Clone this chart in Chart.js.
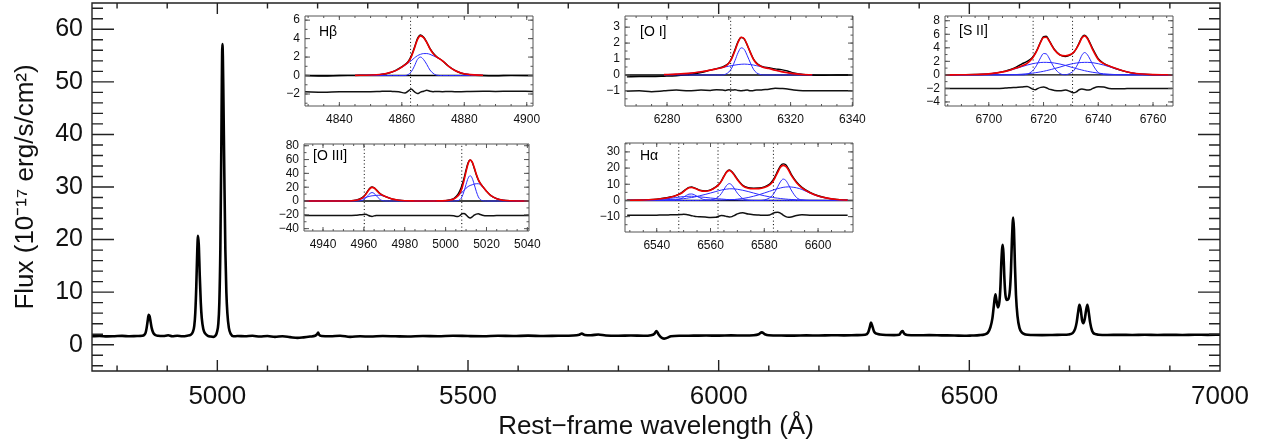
<!DOCTYPE html>
<html>
<head>
<meta charset="utf-8">
<title>Rest-frame spectrum</title>
<script src="https://cdn.jsdelivr.net/npm/chart.js@4.4.1/dist/chart.umd.min.js"></script>
<style>
  html, body { margin: 0; padding: 0; background: #fff; }
  #stage { position: relative; width: 1262px; height: 445px; overflow: hidden; }
  #stage canvas { position: absolute; }
</style>
</head>
<body>
<div id="stage">
  <canvas id="main" width="1262" height="445" style="left:0;top:0"></canvas>
  <canvas id="hb"></canvas>
  <canvas id="oi"></canvas>
  <canvas id="sii"></canvas>
  <canvas id="oiii"></canvas>
  <canvas id="ha"></canvas>
</div>
<script>
// ---------------- main spectrum: [wavelength (A), flux] ----------------
const spectrum = [
  [4750,1.6],[4765,1.65],[4780,1.58],[4795,1.62],[4810,1.68],[4825,1.6],[4840,1.66],[4850,1.7],
  [4854,1.85],[4857,2.3],[4859,3.2],[4861,4.5],[4863,5.7],[4865,5.4],[4867,4.3],[4869,3.2],
  [4872,2.3],[4876,1.85],[4882,1.7],[4892,1.65],[4902,1.8],[4910,1.6],[4920,1.7],[4930,1.62],
  [4940,1.72],[4947,1.9],[4951,2.4],[4954,3.6],[4956,6],[4958,11],[4960,18],[4961.5,20.7],
  [4963,19],[4965,13],[4967,8],[4969,5],[4972,3],[4976,2.1],[4981,1.7],[4987,1.55],[4992,1.5],
  [4996,1.7],[4999,2.3],[5002,4],[5004,8],[5006,18],[5008,38],[5009,50],[5010,57.2],[5011,55],
  [5012,48],[5014,32],[5016,18],[5018,10],[5020,6],[5023,3.2],[5027,2],[5032,1.6],[5040,1.65],
  [5055,1.6],[5070,1.7],[5085,1.55],[5100,1.65],[5115,1.5],[5130,1.6],[5145,1.45],[5160,1.3],
  [5172,1.4],[5185,1.55],[5195,1.7],[5199,2.0],[5201,2.3],[5203,1.9],[5208,1.65],[5225,1.6],
  [5245,1.7],[5265,1.5],[5285,1.6],[5305,1.55],[5330,1.65],[5355,1.6],[5380,1.55],[5410,1.65],
  [5440,1.6],[5470,1.7],[5500,1.65],[5530,1.62],[5560,1.7],[5590,1.65],[5620,1.72],[5650,1.65],
  [5680,1.7],[5710,1.75],[5722,1.9],[5727,2.1],[5733,1.85],[5745,1.8],[5760,1.95],[5775,1.75],
  [5800,1.7],[5825,1.75],[5850,1.7],[5865,1.8],[5872,2.1],[5876,2.6],[5880,2.0],[5885,1.4],
  [5891,1.15],[5897,1.3],[5905,1.6],[5925,1.7],[5950,1.72],[5975,1.75],[6000,1.72],[6025,1.78],
  [6050,1.75],[6070,1.8],[6080,2.0],[6086,2.35],[6092,2.0],[6100,1.8],[6125,1.75],[6150,1.72],
  [6175,1.78],[6200,1.75],[6225,1.8],[6250,1.78],[6275,1.82],[6292,1.9],[6298,2.3],[6301,3.2],
  [6304,4.2],[6307,3.4],[6310,2.5],[6315,2.1],[6322,1.95],[6335,1.85],[6350,1.82],[6360,1.9],
  [6364,2.4],[6367,2.6],[6370,2.1],[6376,1.85],[6395,1.8],[6420,1.82],[6445,1.78],[6470,1.75],
  [6490,1.7],[6505,1.75],[6520,1.82],[6530,1.95],[6537,2.3],[6542,3.3],[6546,5],[6549,7.5],
  [6552,9.6],[6554,8.5],[6557,7.1],[6560,8.2],[6562,11],[6564,16],[6566.5,19],[6568,17.5],
  [6570,12.5],[6572,9.5],[6575,8.5],[6578,8.7],[6581,10.5],[6583,14],[6585,20],[6587.5,24.2],
  [6589,22],[6591,15],[6593,9.5],[6596,5.5],[6600,3.2],[6605,2.3],[6612,1.95],[6625,1.85],
  [6645,1.82],[6665,1.85],[6685,1.9],[6698,1.95],[6706,2.2],[6711,3],[6714,4.2],[6717,6.2],
  [6719.5,7.6],[6722,6.8],[6725,4.6],[6727.5,4.1],[6730,4.8],[6733,6.6],[6735.5,7.6],[6738,6.3],
  [6741,4.2],[6745,2.6],[6750,2.05],[6758,1.9],[6775,1.85],[6800,1.88],[6825,1.85],[6850,1.9],
  [6875,1.86],[6900,1.88],[6925,1.85],[6950,1.9],[6975,1.87],[7000,1.9]
];
const mainXTicks = [5000, 5500, 6000, 6500, 7000];
const mainXMinor = [4800, 4900, 5100, 5200, 5300, 5400, 5600, 5700, 5800, 5900, 6100, 6200,
                    6300, 6400, 6600, 6700, 6800, 6900];
const mainYTicks = [0, 10, 20, 30, 40, 50, 60];
const mainYMinor = [-4, -2, 2, 4, 6, 8, 12, 14, 16, 18, 22, 24, 26, 28, 32, 34, 36, 38,
                    42, 44, 46, 48, 52, 54, 56, 58, 62, 64];

// ---------------- H beta inset ----------------
const hbWave   = [4829,4835,4840,4845,4850,4853,4855,4857,4859,4861,4862,4863,4864,4865,4866,
                  4867,4868,4869,4870,4871,4873,4875,4877,4879,4882,4886,4890,4895,4902];
const hbObs    = [0.0,-0.05,0.0,0.02,0.05,0.1,0.2,0.4,0.75,1.2,1.5,2.1,3.0,4.0,4.4,
                  4.15,3.6,2.95,2.45,2.1,1.6,1.0,0.55,0.25,0.08,0.0,-0.02,0.02,0.0];
const hbModel  = [null,null,null,0.02,0.06,0.12,0.22,0.4,0.7,1.15,1.45,2.0,2.9,3.9,4.3,
                  4.1,3.58,2.9,2.4,2.05,1.6,1.0,0.55,0.28,0.1,0.03,null,null,null];
const hbBroad  = [null,null,null,0.02,0.06,0.12,0.22,0.4,0.7,1.1,1.35,1.6,1.9,2.15,2.3,
                  2.38,2.38,2.3,2.15,2.0,1.6,1.0,0.55,0.28,0.1,0.03,null,null,null];
const hbNarrow = [null,null,null,0,0,0,0,0,0,0,0.1,0.4,1.0,1.75,2.0,
                  1.72,1.2,0.6,0.25,0.05,0,0,0,0,0,0,null,null,null];
const hbResid  = [-1.75,-1.8,-1.75,-1.75,-1.75,-1.72,-1.7,-1.72,-1.75,-1.9,-1.7,-1.45,-1.75,-1.95,-1.8,
                  -1.7,-1.6,-1.7,-1.75,-1.72,-1.75,-1.72,-1.75,-1.75,-1.72,-1.7,-1.72,-1.7,-1.72];
const hbLines  = [4862.8];

// ---------------- [O I] inset ----------------
const oiWave   = [6267,6271,6275,6279,6283,6287,6291,6294,6296,6298,6299,6300,6301,6302,6303,6304,
                  6305,6306,6307,6308,6309,6310,6311,6313,6315,6317,6319,6321,6324,6327,6331,6335,6340];
const oiObs    = [-0.12,-0.1,-0.1,-0.08,-0.05,0.02,0.15,0.3,0.4,0.5,0.6,0.75,1.1,1.6,2.1,2.35,
                  2.25,1.85,1.4,1.0,0.75,0.6,0.52,0.45,0.38,0.33,0.25,0.12,0.03,0.0,-0.02,0.0,0.0];
const oiModel  = [null,null,null,0.02,0.05,0.1,0.2,0.3,0.38,0.47,0.56,0.73,1.04,1.52,2.05,2.37,
                  2.28,1.87,1.4,0.97,0.71,0.58,0.49,0.4,0.3,0.21,0.14,0.08,0.03,0.01,null,null,null];
const oiBroad  = [null,null,null,0.02,0.05,0.1,0.2,0.3,0.38,0.47,0.51,0.55,0.59,0.62,0.65,0.67,
                  0.68,0.67,0.65,0.62,0.58,0.54,0.49,0.4,0.3,0.21,0.14,0.08,0.03,0.01,null,null,null];
const oiNarrow = [null,null,null,0,0,0,0,0,0,0,0.05,0.18,0.45,0.9,1.4,1.7,
                  1.6,1.2,0.75,0.35,0.13,0.04,0,0,0,0,0,0,0,0,null,null,null];
const oiResid  = [-1.02,-1.0,-1.05,-1.0,-0.95,-1.0,-0.95,-0.97,-0.93,-0.95,-0.97,-0.93,-0.95,-0.93,-0.97,-1.0,
                  -0.97,-0.95,-1.0,-0.98,-0.95,-0.95,-0.93,-0.9,-0.83,-0.85,-0.88,-0.95,-1.0,-1.0,-1.0,-1.0,-1.0];
const oiLines  = [6300.6];

// ---------------- [S II] inset ----------------
const siiWave   = [6684,6690,6695,6700,6703,6706,6708,6710,6712,6714,6716,6717,6718,6719,6720,6721,6722,
                   6723,6724,6726,6728,6730,6731,6732,6733,6734,6735,6736,6737,6738,6740,6742,6744,6746,
                   6749,6752,6756,6760,6767];
const siiObs    = [0.0,0.03,0.05,0.12,0.3,0.55,0.8,1.15,1.6,2.0,2.6,3.2,4.0,4.95,5.65,5.7,5.15,
                   4.4,3.75,2.95,2.7,3.0,3.3,3.9,4.7,5.55,5.85,5.5,4.7,3.85,2.4,1.7,1.3,0.98,
                   0.6,0.3,0.1,0.02,0.0];
const siiModel  = [0,0.02,0.05,0.15,0.3,0.52,0.73,1.0,1.3,1.71,2.51,3.14,3.96,4.88,5.53,5.57,5.05,
                   4.32,3.68,2.95,2.82,3.05,3.33,3.88,4.62,5.45,5.77,5.38,4.58,3.68,2.26,1.66,1.3,1.0,
                   0.62,0.32,0.12,0.04,0];
const siiNarrow = [0,0,0,0,0,0,0,0,0,0.1,0.6,1.1,1.8,2.6,3.15,3.1,2.5,
                   1.7,1.0,0.2,0.02,0.3,0.6,1.2,2.0,2.9,3.3,3.0,2.3,1.5,0.35,0.05,0,0,
                   0,0,0,0,0];
const siiBroad1 = [0,0.02,0.05,0.15,0.3,0.5,0.7,0.95,1.2,1.45,1.65,1.72,1.78,1.83,1.85,1.85,1.83,
                   1.8,1.75,1.6,1.4,1.15,1.05,0.93,0.82,0.72,0.62,0.53,0.45,0.38,0.26,0.16,0.1,0.05,
                   0.02,0,0,0,0];
const siiBroad2 = [0,0,0,0,0,0.02,0.03,0.05,0.1,0.16,0.26,0.32,0.38,0.45,0.53,0.62,0.72,
                   0.82,0.93,1.15,1.4,1.6,1.68,1.75,1.8,1.83,1.85,1.85,1.83,1.8,1.65,1.45,1.2,0.95,
                   0.6,0.32,0.12,0.04,0];
const siiResid  = [-2.0,-2.0,-2.0,-2.0,-2.0,-1.95,-1.9,-1.85,-1.8,-1.7,-2.1,-2.2,-2.0,-1.85,-1.8,-1.9,-2.1,
                   -2.2,-2.3,-2.35,-2.25,-2.5,-2.65,-2.5,-2.2,-2.1,-2.15,-2.25,-2.2,-2.0,-1.75,-1.8,-2.0,-2.05,
                   -2.05,-2.0,-2.0,-2.0,-2.0];
const siiLines  = [6716.2, 6730.6];

// ---------------- [O III] inset ----------------
const o3Wave   = [4931,4940,4950,4954,4956,4958,4960,4961,4962,4963,4964,4965,4966,4967,4968,4969,
                  4970,4972,4974,4977,4980,4985,4990,4995,5000,5002,5004,5006,5007,5008,5009,5010,
                  5011,5012,5013,5014,5015,5016,5017,5018,5020,5022,5025,5028,5032,5036,5041];
const o3Obs    = [0.3,0.2,0.3,0.6,1.3,3.0,6.8,10.5,15,18.8,20.3,19.2,16.5,13.3,10.5,8.6,
                  7.2,4.8,2.8,1.2,0.5,0.2,0.1,0.2,0.6,1.5,3.5,9.5,15,23,33,45,
                  55.5,59.5,56,47.5,38,30.5,25.5,21.5,14.2,8.2,3.4,1.3,0.4,0.2,0.2];
const o3Model  = [0,0,0.1,0.4,1.0,2.5,6.2,9.8,14.2,18,19.7,18.8,16.2,13,10.3,8.5,
                  7.2,4.7,2.7,1.1,0.4,0.1,0,0.1,0.5,1.2,3,7.5,11.5,18.5,29.5,42.5,
                  54,59.1,56.5,48.5,39,31,25.5,21.5,14,8,3.2,1.2,0.3,0.05,0];
const o3Narrow = [0,0,0,0,0,0.2,2.0,4.7,8,11,12.2,11,8,4.7,2,0.7,
                  0.2,0,0,0,0,0,0,0,0,0,0,0.5,2,6,14,24,
                  33,36.6,33,24,14,6,2,0.5,0,0,0,0,0,0,0];
const o3Broad  = [0,0,0.1,0.4,1.0,2.3,4.2,5.1,6.2,7,7.5,7.8,8.2,8.3,8.3,7.8,
                  7,4.7,2.7,1.1,0.4,0.1,0,0.1,0.5,1.2,3,7,9.5,12.5,15.5,18.5,
                  21,22.5,23.5,24.5,25,25,23.5,21,14,8,3.2,1.2,0.3,0.05,0];
const o3Resid  = [-21,-21,-21,-20.8,-20.5,-20,-19.5,-19.2,-20.5,-21.8,-22.3,-21.5,-21,-20.8,-20.8,-21,
                  -21,-21,-21,-21,-21,-21,-21,-21,-21,-21,-21.5,-22.5,-21,-18.5,-18,-20,
                  -23,-24.5,-23,-20.5,-19,-18.5,-19.5,-20.5,-21.5,-21.5,-21,-21,-21,-21,-21];
const o3Lines  = [4960.2, 5007.9];

// ---------------- H alpha + [N II] inset ----------------
const haWave    = [6529,6533,6537,6540,6543,6545,6547,6549,6550,6551,6552,6553,6554,6555,6556,6558,
                   6560,6562,6563,6564,6565,6566,6567,6568,6569,6570,6572,6574,6576,6578,6580,6582,
                   6583,6584,6585,6586,6587,6588,6589,6590,6592,6594,6597,6600,6603,6607,6611];
const haObs     = [0.1,0.2,0.45,0.8,1.5,2.1,3.0,4.5,5.8,7.1,8.1,8.3,7.8,7.1,6.4,5.9,
                   6.5,8.4,9.8,12.0,15.0,17.8,18.9,17.8,15.6,13.2,9.4,7.9,7.6,7.7,8.4,10.1,
                   12.0,14.8,18.3,21.4,22.6,22.0,19.6,16.3,11.5,8.1,5.0,2.9,1.6,0.6,0.2];
const haModel   = [0.1,0.2,0.4,0.75,1.4,2.0,2.9,4.3,5.5,6.8,7.8,8.0,7.6,6.9,6.2,5.7,
                   6.3,8.2,9.6,11.8,14.8,17.5,18.6,17.4,15.2,12.8,9.0,7.5,7.2,7.3,8.0,9.6,
                   11.3,14.0,17.4,20.5,21.7,21.0,18.8,15.6,11.0,7.8,4.8,2.8,1.6,0.6,0.2];
const haNarrow  = [0,0,0,0,0,0,0.3,1.1,2.0,3.1,3.9,4.0,3.5,2.6,1.7,0.4,
                   0.3,1.2,2.3,4.2,6.8,9.3,10.4,9.4,7.0,4.5,1.2,0.2,0,0,0.3,1.6,
                   3.0,5.4,8.5,11.5,13.2,12.4,9.7,6.5,1.8,0.3,0,0,0,0,0];
const haBroadN1 = [0.05,0.1,0.25,0.5,0.9,1.3,1.8,2.2,2.4,2.5,2.6,2.6,2.5,2.4,2.2,1.9,
                   1.5,1.2,1.0,0.9,0.75,0.6,0.5,0.4,0.35,0.3,0.15,0.1,0.05,0,0,0,
                   0,0,0,0,0,0,0,0,0,0,0,0,0,0,0];
const haBroadHa = [0,0.05,0.1,0.2,0.4,0.6,0.75,0.9,1.1,1.3,1.6,1.8,2.1,2.5,2.9,3.7,
                   4.6,5.5,6.0,6.4,6.8,7.0,7.2,7.2,7.1,6.9,6.3,5.5,4.6,3.7,2.9,2.2,
                   1.9,1.6,1.4,1.2,1.0,0.85,0.7,0.6,0.4,0.25,0.1,0.05,0,0,0];
const haBroadN2 = [0,0,0,0,0,0,0,0,0,0,0,0,0,0,0,0.05,
                   0.08,0.1,0.15,0.2,0.25,0.3,0.4,0.5,0.6,0.8,1.2,1.8,2.6,3.5,4.6,5.7,
                   6.2,6.8,7.3,7.7,8.1,8.3,8.4,8.3,7.8,6.8,4.5,2.6,1.4,0.5,0.15];
const haResid   = [-9.2,-9.2,-9.2,-9.1,-9.0,-8.9,-8.8,-8.7,-8.6,-8.7,-9.0,-9.4,-9.8,-10.0,-10.1,-10.3,
                   -10.5,-10.4,-9.8,-9.3,-9.4,-9.9,-10.2,-10.0,-9.2,-8.3,-7.6,-8.4,-8.8,-9.0,-9.2,-9.0,
                   -8.2,-7.4,-7.3,-7.8,-9.0,-10.0,-10.4,-10.2,-9.3,-8.9,-9.1,-9.2,-9.2,-9.2,-9.2];
const haLines   = [6548.2, 6562.8, 6583.4];

////////////////////////////////////////////////////////////////////
const FONT = "'Liberation Sans', Arial, Helvetica, sans-serif";
Chart.defaults.font.family = FONT;
Chart.defaults.color = '#000';

function every(a, b, s) {   // tick mark positions only
    const out = [];
    for (let v = a; v <= b + 1e-9; v += s) out.push(+v.toFixed(3));
    return out;
}
function pts(wave, vals) {
    return wave.map((w, i) => ({ x: w, y: vals[i] }));
}
const minus = v => String(v).replace('-', '\u2212');

// inward ticks on all four sides + frame + panel label
const frame = {
    id: 'frame',
    afterDatasetsDraw(chart, args, o) {
        const { ctx, chartArea: a, scales: { x, y } } = chart;
        ctx.save();
        ctx.strokeStyle = o.color;
        ctx.lineWidth = o.lineWidth;
        ctx.beginPath();
        const xt = (vals, len) => vals.forEach(v => {
            const p = x.getPixelForValue(v);
            ctx.moveTo(p, a.bottom); ctx.lineTo(p, a.bottom - len);
            ctx.moveTo(p, a.top); ctx.lineTo(p, a.top + len);
        });
        const yt = (vals, len) => vals.forEach(v => {
            const p = y.getPixelForValue(v);
            ctx.moveTo(a.left, p); ctx.lineTo(a.left + len, p);
            ctx.moveTo(a.right, p); ctx.lineTo(a.right - len, p);
        });
        xt(o.xMinor, o.xLen / 2); xt(o.xMajor, o.xLen);
        yt(o.yMinor, o.yLen / 2); yt(o.yMajor, o.yLen);
        ctx.rect(a.left, a.top, a.right - a.left, a.bottom - a.top);
        ctx.stroke();
        if (o.label) {
            ctx.fillStyle = '#000';
            ctx.font = o.labelFont;
            ctx.fillText(o.label, a.left + o.labelAt[0], a.top + o.labelAt[1]);
        }
        ctx.restore();
    }
};

function axis(min, max, ticks, fit, tickFont, pad, extra) {
    return Object.assign({
        type: 'linear', min: min, max: max,
        afterBuildTicks: s => { s.ticks = ticks.map(v => ({ value: v })); },
        afterFit: s => {
            if (fit.w !== undefined) s.width = fit.w;
            if (fit.h !== undefined) s.height = fit.h;
            s.paddingLeft = 0; s.paddingRight = 0; s.paddingTop = 0; s.paddingBottom = 0;
        },
        grid: { display: false, drawTicks: false },
        border: { display: false },
        ticks: { autoSkip: false, maxRotation: 0, minRotation: 0, padding: pad,
                 font: { size: tickFont }, color: '#111', callback: v => minus(v) }
    }, extra || {});
}

const baseOpts = {
    responsive: false, animation: false, devicePixelRatio: 1, events: [],
    plugins: { legend: { display: false }, tooltip: { enabled: false } },
    elements: { point: { radius: 0 } }
};

//////////////////////// main chart ////////////////////////
new Chart(document.getElementById('main'), {
    type: 'line',
    data: {
        datasets: [{
            data: spectrum.map(p => ({ x: p[0], y: p[1] })),
            borderColor: '#000', borderWidth: 2.6, cubicInterpolationMode: 'monotone', fill: false
        }]
    },
    options: Object.assign({}, baseOpts, {
        layout: { padding: { left: 0, top: 3, right: 42, bottom: 0 } },
        scales: {
            x: axis(4750, 7000, mainXTicks, { h: 74 }, 26, 10, {
                title: { display: true, text: 'Rest\u2212frame wavelength (\u00c5)', color: '#111',
                         font: { size: 26 }, padding: { top: 0, bottom: 3 } }
            }),
            y: axis(-5, 65, mainYTicks, { w: 92 }, 25, 9, {
                title: { display: true, text: 'Flux (10\u207b\u00b9\u2077 erg/s/cm\u00b2)', color: '#111',
                         font: { size: 26 }, padding: { top: 10, bottom: 0 } }
            })
        },
        plugins: Object.assign({}, baseOpts.plugins, {
            frame: { color: '#222', lineWidth: 1.4, xMajor: mainXTicks, xMinor: mainXMinor, xLen: 11,
                     yMajor: mainYTicks, yMinor: mainYMinor, yLen: 22 }
        })
    }),
    plugins: [frame]
});

//////////////////////// insets ////////////////////////
const RED = '#ee0000', BLUE = '#2a2aff';
const insets = [
    { id: 'hb', box: [305, 16, 533, 106], x: [4829, 4902], y: [-3.3, 6.45],
      xTicks: [4840, 4860, 4880, 4900], xMinor: every(4830, 4900, 5),
      yTicks: [-2, 0, 2, 4, 6], yMinor: every(-3, 6, 1),
      label: 'H\u03b2', labelAt: [14, 20], lines: hbLines,
      wave: hbWave, obs: hbObs, model: hbModel, comps: [hbNarrow, hbBroad], resid: hbResid },
    { id: 'oi', box: [625, 16, 853, 106], x: [6266.4, 6340.2], y: [-1.95, 3.7],
      xTicks: [6280, 6300, 6320, 6340], xMinor: every(6270, 6340, 5),
      yTicks: [-1, 0, 1, 2, 3], yMinor: every(-1.5, 3.5, 0.5),
      label: '[O I]', labelAt: [15, 20], lines: oiLines,
      wave: oiWave, obs: oiObs, model: oiModel, comps: [oiNarrow, oiBroad], resid: oiResid },
    { id: 'sii', box: [945, 16, 1173, 106], x: [6684, 6767.3], y: [-4.6, 8.7],
      xTicks: [6700, 6720, 6740, 6760], xMinor: every(6685, 6765, 5),
      yTicks: [-4, -2, 0, 2, 4, 6, 8], yMinor: every(-4, 8, 1),
      label: '[S II]', labelAt: [14, 19], lines: siiLines,
      wave: siiWave, obs: siiObs, model: siiModel, comps: [siiNarrow, siiBroad1, siiBroad2], resid: siiResid },
    { id: 'oiii', box: [304, 144, 529, 231], x: [4930.7, 5040.8], y: [-43.4, 82.5],
      xTicks: [4940, 4960, 4980, 5000, 5020, 5040], xMinor: every(4935, 5040, 5),
      yTicks: [-40, -20, 0, 20, 40, 60, 80], yMinor: every(-40, 80, 10),
      label: '[O III]', labelAt: [9, 16], lines: o3Lines,
      wave: o3Wave, obs: o3Obs, model: o3Model, comps: [o3Narrow, o3Broad], resid: o3Resid },
    { id: 'ha', box: [625, 143, 853, 232], x: [6528.2, 6613], y: [-19.5, 35.5],
      xTicks: [6540, 6560, 6580, 6600], xMinor: every(6530, 6610, 5),
      yTicks: [-10, 0, 10, 20, 30], yMinor: every(-15, 35, 5),
      label: 'H\u03b1', labelAt: [15, 17], lines: haLines,
      wave: haWave, obs: haObs, model: haModel, comps: [haNarrow, haBroadN1, haBroadHa, haBroadN2], resid: haResid }
];

const padL = 40, padT = 8, padR = 24, padB = 26;
insets.forEach(c => {
    const el = document.getElementById(c.id);
    el.width = (c.box[2] - c.box[0]) + padL + padR;
    el.height = (c.box[3] - c.box[1]) + padT + padB;
    el.style.left = (c.box[0] - padL) + 'px';
    el.style.top = (c.box[1] - padT) + 'px';

    const ds = [];
    ds.push({ data: pts(c.wave, c.model), borderColor: RED, borderWidth: 1.6, order: 0 });
    c.comps.forEach(v => ds.push({ data: pts(c.wave, v), borderColor: BLUE, borderWidth: 1, order: 1 }));
    ds.push({ data: pts(c.wave, c.obs), borderColor: '#000', borderWidth: 1.4, order: 2 });
    ds.push({ data: pts(c.wave, c.resid), borderColor: '#111', borderWidth: 1.5, order: 2 });
    ds.push({ data: [{ x: c.x[0], y: 0 }, { x: c.x[1], y: 0 }], borderColor: '#000', borderWidth: 1.4, order: 3 });
    c.lines.forEach(l => ds.push({ data: [{ x: l, y: c.y[0] }, { x: l, y: c.y[1] }],
        borderColor: '#000', borderWidth: 1, borderDash: [1, 2.5], order: 4 }));
    ds.forEach(d => { d.fill = false; d.cubicInterpolationMode = 'monotone'; d.spanGaps = false; });

    new Chart(el, {
        type: 'line',
        data: { datasets: ds },
        options: Object.assign({}, baseOpts, {
            layout: { padding: { left: 0, top: padT, right: padR, bottom: 0 } },
            scales: {
                x: axis(c.x[0], c.x[1], c.xTicks, { h: padB }, 12, 6),
                y: axis(c.y[0], c.y[1], c.yTicks, { w: padL }, 12, 5)
            },
            plugins: Object.assign({}, baseOpts.plugins, {
                frame: { color: '#555', lineWidth: 1, xMajor: c.xTicks, xMinor: c.xMinor, xLen: 4,
                         yMajor: c.yTicks, yMinor: c.yMinor, yLen: 5,
                         label: c.label, labelAt: c.labelAt, labelFont: '14px ' + FONT }
            })
        }),
        plugins: [frame]
    });
});
</script>
</body>
</html>
